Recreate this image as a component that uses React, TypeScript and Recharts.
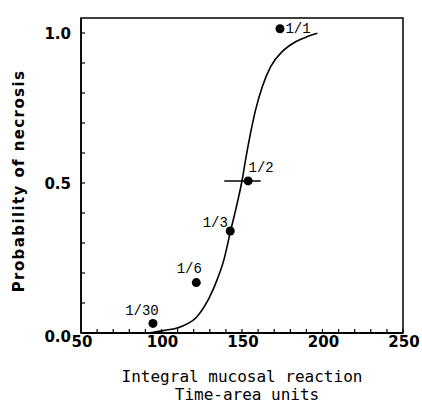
import React from "react";
import {
  ComposedChart, Line, Scatter, XAxis, YAxis, ErrorBar,
  ReferenceArea, LabelList, Label,
} from "recharts";

// fitted curve
const curveX = [88, 93, 101, 112, 122, 130, 134.5, 138.7, 142.8, 147, 150.1, 152.2, 155.3, 158.4, 162.6, 167.8, 175, 183.3, 190.6, 196.8];
const curveY = [0, 0.001, 0.008, 0.021, 0.054, 0.121, 0.177, 0.243, 0.338, 0.432, 0.51, 0.577, 0.666, 0.743, 0.821, 0.888, 0.938, 0.971, 0.988, 0.999];

// observed points
const pointX = [94.7, 121.6, 142.7, 153.8, 173.6];
const pointY = [0.032, 0.168, 0.34, 0.507, 1.014];
const pointLabels = ["1/30", "1/6", "1/3", "1/2", "1/1"];
const pointErrLow = [null, null, null, 14.8, null];
const pointErrHigh = [null, null, null, 7.8, null];

const xTicks = [50, 60, 70, 80, 90, 100, 110, 120, 130, 140, 150, 160, 170, 180, 190, 200, 210, 220, 230, 240, 250];
const xTickLabels = ["50", "100", "150", "200", "250"];
const yTicks = [0, 0.1, 0.2, 0.3, 0.4, 0.5, 0.6, 0.7, 0.8, 0.9, 1.0];
const yTickLabels = ["0.0", "0.5", "1.0"];

const curveData = curveX.map((x, i) => ({ x, y: curveY[i] }));
const pointData = pointX.map((x, i) => ({
  x,
  y: pointY[i],
  label: pointLabels[i],
  xErr: pointErrLow[i] == null ? undefined : [pointErrLow[i], pointErrHigh[i]],
}));

const TICK_FONT = "'DejaVu Sans', sans-serif";
const MONO = "'DejaVu Sans Mono', monospace";

// where each label sits relative to its dot
const LABEL_OFFSET: Record<string, [number, number]> = {
  "1/30": [-11, -8],
  "1/6": [-7, -10],
  "1/3": [-15, -4],
  "1/2": [13, -9],
  "1/1": [18, 4],
};

function XTick({ x, y, payload }: any) {
  const v = payload.value;
  const txt = xTickLabels.find((t) => Number(t) === v);
  return (
    <g>
      <line x1={x} x2={x} y1={y} y2={y - 4} stroke="#000" strokeWidth={1.2} />
      {txt && (
        <text x={x + 1} y={y + 14} textAnchor="middle" fill="#000"
          style={{ fontFamily: TICK_FONT, fontWeight: 700, fontSize: 15 }}>
          {txt}
        </text>
      )}
    </g>
  );
}

function YTick({ x, y, payload }: any) {
  const v = payload.value;
  const txt = yTickLabels.find((t) => Math.abs(Number(t) - v) < 1e-6);
  return (
    <g>
      <line x1={x} x2={x + 4} y1={y} y2={y} stroke="#000" strokeWidth={1.2} />
      {txt && (
        <text x={x - 10} y={y + (v === 0 ? 9 : 6)} textAnchor="end" fill="#000"
          style={{ fontFamily: TICK_FONT, fontWeight: 700, fontSize: 15 }}>
          {txt}
        </text>
      )}
    </g>
  );
}

function PointLabel(props: any) {
  const { x, y, width, height, value } = props;
  const [dx, dy] = LABEL_OFFSET[value] || [0, -8];
  const cx = x + (width || 0) / 2;
  const cy = y + (height || 0) / 2;
  return (
    <text x={cx + dx} y={cy + dy} textAnchor="middle" fill="#000"
      style={{ fontFamily: "'Liberation Mono', monospace", fontSize: 14 }}>
      {value}
    </text>
  );
}

function XTitle({ viewBox }: any) {
  const cx = viewBox.x + viewBox.width / 2;
  return (
    <g style={{ fontFamily: MONO, fontSize: 16 }} fill="#000">
      <text x={cx} y={382} textAnchor="middle">Integral mucosal reaction</text>
      <text x={cx + 5} y={400} textAnchor="middle">Time-area units</text>
    </g>
  );
}

function YTitle() {
  return (
    <text transform="translate(24,181) rotate(-90)" textAnchor="middle" fill="#000"
      style={{ fontFamily: TICK_FONT, fontWeight: 700, fontSize: 15, letterSpacing: 1.4 }}>
      Probability of necrosis
    </text>
  );
}

export default function App() {
  return (
    <div style={{ position: "absolute", left: 0, top: 0, background: "#fff" }}>
      <ComposedChart width={422} height={403} margin={{ top: 18, right: 19, bottom: 0, left: 0 }}>
        <XAxis
          dataKey="x"
          type="number"
          domain={[50, 250]}
          ticks={xTicks}
          interval={0}
          height={70}
          tickSize={0}
          tickMargin={0}
          tickLine={false}
          axisLine={{ stroke: "#000", strokeWidth: 2 }}
          tick={<XTick />}
          allowDataOverflow
        >
          <Label content={<XTitle />} />
        </XAxis>
        <YAxis
          dataKey="y"
          type="number"
          domain={[0, 1.05]}
          ticks={yTicks}
          interval={0}
          width={81}
          tickSize={0}
          tickMargin={0}
          tickLine={false}
          axisLine={{ stroke: "#000", strokeWidth: 1.5 }}
          tick={<YTick />}
          allowDataOverflow
        >
          <Label content={<YTitle />} />
        </YAxis>
        <ReferenceArea x1={50} x2={250} y1={0} y2={1.05} fill="none" fillOpacity={0}
          stroke="#000" strokeWidth={1.5} />
        <Line
          data={curveData}
          dataKey="y"
          type="monotone"
          stroke="#000"
          strokeWidth={1.6}
          dot={false}
          activeDot={false}
          isAnimationActive={false}
        />
        <Scatter
          data={pointData}
          dataKey="y"
          fill="#000"
          isAnimationActive={false}
          shape={(p: any) => <circle cx={p.cx} cy={p.cy} r={4.5} fill="#000" />}
        >
          <ErrorBar dataKey="xErr" direction="x" width={0} stroke="#000" strokeWidth={1.5} />
          <LabelList dataKey="label" content={<PointLabel />} />
        </Scatter>
      </ComposedChart>
    </div>
  );
}
